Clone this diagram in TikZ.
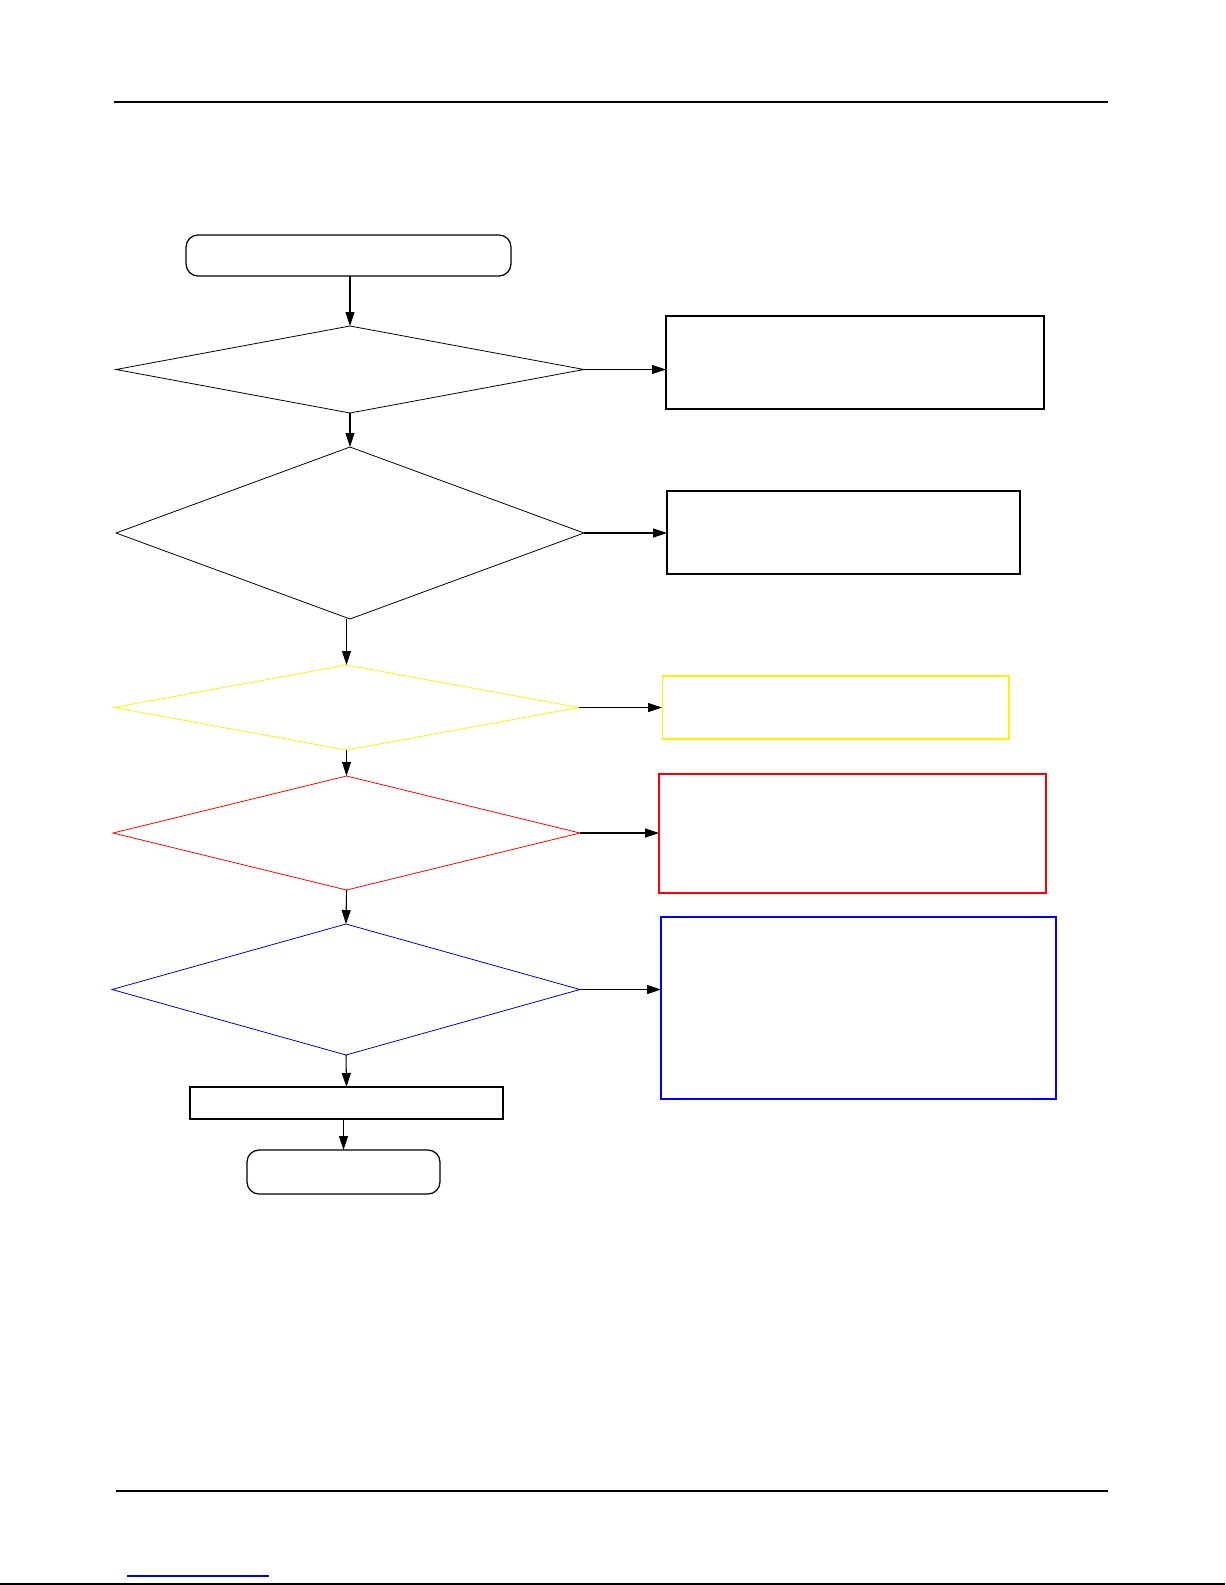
\documentclass[tikz,border=0pt]{standalone}
\usepackage{tikz}
\usetikzlibrary{arrows.meta,shapes.geometric}

\tikzset{
	arr/.style={-{Triangle[length=0.28cm,width=0.18cm]}, line width=0.6pt},
	decide/.style={draw, diamond, inner sep=0pt, outer sep=0pt, line width=0.45pt},
	boxed/.style={draw, rectangle, inner sep=0pt, outer sep=0pt, line width=0.7pt},
	termbox/.style={boxed, rounded corners=0.24cm}
}

\begin{document}
\begin{tikzpicture}[x=0.02cm, y=-0.02cm]
		%%%%% START %%%%%
		\useasboundingbox[fill=white] (0, 0) rectangle (1225, 1585);
		
		\draw[line width=0.9pt] (114, 102) -- (1108, 102);
		\draw[line width=0.9pt] (116, 1491) -- (1108, 1491);
		\draw[line width=0.9pt] (0, 1584) -- (1225, 1584);
		\draw[blue, line width=0.6pt] (127, 1576) -- (269, 1576);
		
		% main column
		\node[termbox, minimum width=6.5cm, minimum height=0.82cm] (start) at (348.5, 255.5) {};
		\node[decide, minimum width=9.36cm, minimum height=1.74cm] (d1) at (350, 369.5) {};
		\node[decide, minimum width=9.36cm, minimum height=3.44cm] (d2) at (350, 533) {};
		\node[decide, yellow, minimum width=9.3cm, minimum height=1.7cm] (d3) at (346.5, 707.5) {};
		\node[decide, red, minimum width=9.34cm, minimum height=2.28cm] (d4) at (346.5, 833) {};
		\node[decide, blue!80!black, minimum width=9.36cm, minimum height=2.62cm] (d5) at (346, 989.5) {};
		\node[boxed, minimum width=6.26cm, minimum height=0.64cm] (fix) at (346.5, 1103) {};
		\node[termbox, minimum width=3.86cm, minimum height=0.88cm] (stop) at (343.5, 1172) {};
		
		% right column
		\node[boxed, minimum width=7.56cm, minimum height=1.86cm] (r1) at (855, 362.5) {};
		\node[boxed, minimum width=7.06cm, minimum height=1.66cm] (r2) at (843.5, 532.5) {};
		\node[boxed, yellow, line width=0.6pt, minimum width=6.94cm, minimum height=1.26cm] (r3) at (835.5, 707.5) {};
		\node[boxed, red, line width=1.2pt, minimum width=7.74cm, minimum height=2.38cm] (r4) at (852.5, 833.5) {};
		\node[boxed, blue, line width=1.5pt, minimum width=7.9cm, minimum height=3.64cm] (r5) at (858.5, 1008) {};
		
		\draw[arr] (d1.north |- start.south) -- (d1.north);
		\draw[arr] (d1.south) -- (d2.north);
		\draw[arr] (d3.north |- d2.south) -- (d3.north);
		\draw[arr] (d3.south) -- (d4.north);
		\draw[arr] (d4.south) -- (d5.north);
		\draw[arr] (d5.south) -- (fix.north);
		\draw[arr] (stop.north |- fix.south) -- (stop.north);
		
		\draw[arr] (d1.east) -- (d1.east -| r1.west);
		\draw[arr] (d2.east) -- (d2.east -| r2.west);
		\draw[arr] (d3.east) -- (d3.east -| r3.west);
		\draw[arr] (d4.east) -- (d4.east -| r4.west);
		\draw[arr] (d5.east) -- (d5.east -| r5.west);
		%%%%% END %%%%%
	\end{tikzpicture}
\end{document}
